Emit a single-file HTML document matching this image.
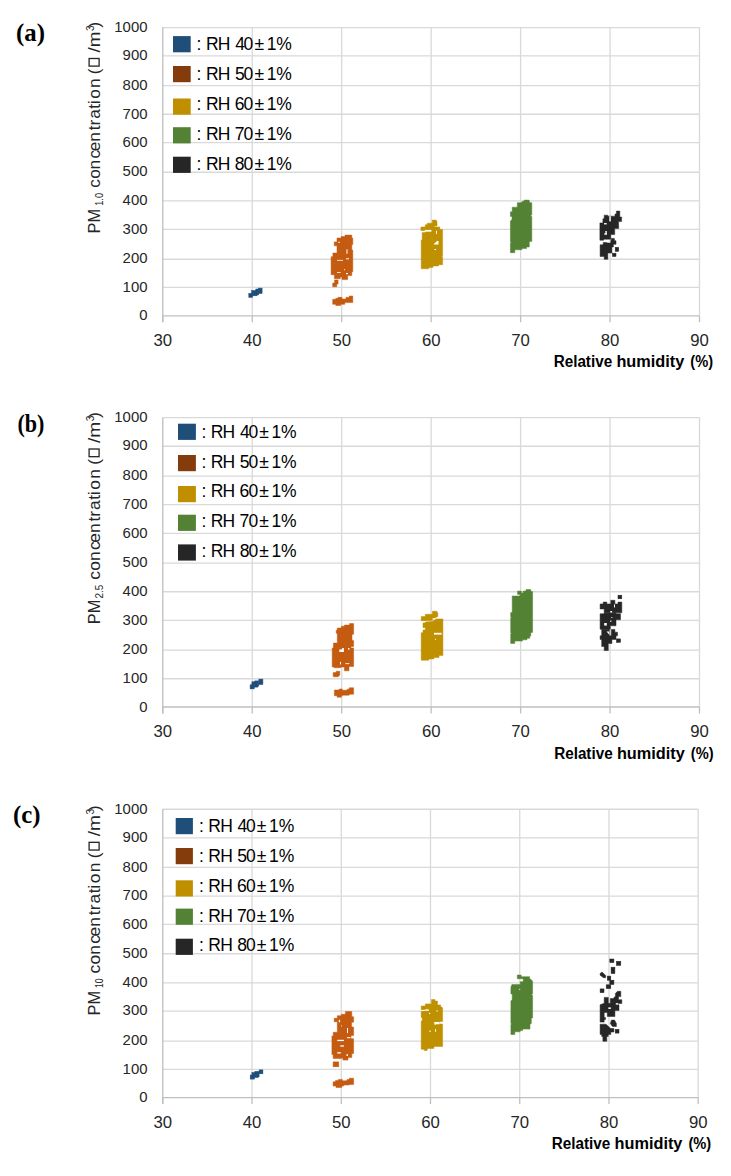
<!DOCTYPE html>
<html><head><meta charset="utf-8"><style>
html,body{margin:0;padding:0;background:#fff;}
body{width:731px;height:1176px;overflow:hidden;position:relative;}
svg{position:absolute;left:0;top:0;}
text{font-family:"Liberation Sans",sans-serif;fill:#262626;}
.yt{font-size:14px;}
.xt{font-size:16px;}
.xl{font-size:16px;font-weight:bold;fill:#000;}
.lg{font-size:17.5px;fill:#000;}
.pl{font-family:"Liberation Serif",serif;font-size:24.8px;font-weight:bold;fill:#000;}
.ylab{font-size:17.2px;}
.ysub{font-size:11px;}
</style></head><body>
<svg width="731" height="1176" viewBox="0 0 731 1176">
<line x1="162.8" x2="699.5" y1="287.45" y2="287.45" stroke="#d9d9d9" stroke-width="1.3"/>
<line x1="162.8" x2="699.5" y1="259.25" y2="259.25" stroke="#d9d9d9" stroke-width="1.3"/>
<line x1="162.8" x2="699.5" y1="229.45" y2="229.45" stroke="#d9d9d9" stroke-width="1.3"/>
<line x1="162.8" x2="699.5" y1="200.85" y2="200.85" stroke="#d9d9d9" stroke-width="1.3"/>
<line x1="162.8" x2="699.5" y1="172.25" y2="172.25" stroke="#d9d9d9" stroke-width="1.3"/>
<line x1="162.8" x2="699.5" y1="142.65" y2="142.65" stroke="#d9d9d9" stroke-width="1.3"/>
<line x1="162.8" x2="699.5" y1="114.25" y2="114.25" stroke="#d9d9d9" stroke-width="1.3"/>
<line x1="162.8" x2="699.5" y1="85.65" y2="85.65" stroke="#d9d9d9" stroke-width="1.3"/>
<line x1="162.8" x2="699.5" y1="55.95" y2="55.95" stroke="#d9d9d9" stroke-width="1.3"/>
<line x1="162.8" x2="699.5" y1="27.55" y2="27.55" stroke="#d9d9d9" stroke-width="1.3"/>
<line x1="252.25" x2="252.25" y1="27.3" y2="315.8" stroke="#d9d9d9" stroke-width="1.3"/>
<line x1="341.70" x2="341.70" y1="27.3" y2="315.8" stroke="#d9d9d9" stroke-width="1.3"/>
<line x1="431.15" x2="431.15" y1="27.3" y2="315.8" stroke="#d9d9d9" stroke-width="1.3"/>
<line x1="520.60" x2="520.60" y1="27.3" y2="315.8" stroke="#d9d9d9" stroke-width="1.3"/>
<line x1="610.05" x2="610.05" y1="27.3" y2="315.8" stroke="#d9d9d9" stroke-width="1.3"/>
<line x1="699.50" x2="699.50" y1="27.3" y2="315.8" stroke="#d9d9d9" stroke-width="1.3"/>
<line x1="162.80" x2="162.80" y1="315.8" y2="322.3" stroke="#bfbfbf" stroke-width="1.3"/>
<line x1="252.25" x2="252.25" y1="315.8" y2="322.3" stroke="#bfbfbf" stroke-width="1.3"/>
<line x1="341.70" x2="341.70" y1="315.8" y2="322.3" stroke="#bfbfbf" stroke-width="1.3"/>
<line x1="431.15" x2="431.15" y1="315.8" y2="322.3" stroke="#bfbfbf" stroke-width="1.3"/>
<line x1="520.60" x2="520.60" y1="315.8" y2="322.3" stroke="#bfbfbf" stroke-width="1.3"/>
<line x1="610.05" x2="610.05" y1="315.8" y2="322.3" stroke="#bfbfbf" stroke-width="1.3"/>
<line x1="699.50" x2="699.50" y1="315.8" y2="322.3" stroke="#bfbfbf" stroke-width="1.3"/>
<line x1="162.80" x2="162.80" y1="27.3" y2="322.3" stroke="#bfbfbf" stroke-width="1.3"/>
<line x1="162.8" x2="699.5" y1="315.80" y2="315.80" stroke="#bfbfbf" stroke-width="1.3"/>
<text x="139.20" y="320.2" class="yt" textLength="8.30" lengthAdjust="spacingAndGlyphs">0</text>
<text x="122.61" y="291.6" class="yt" textLength="24.89" lengthAdjust="spacingAndGlyphs">100</text>
<text x="122.61" y="263.4" class="yt" textLength="24.89" lengthAdjust="spacingAndGlyphs">200</text>
<text x="122.61" y="233.6" class="yt" textLength="24.89" lengthAdjust="spacingAndGlyphs">300</text>
<text x="122.61" y="205.0" class="yt" textLength="24.89" lengthAdjust="spacingAndGlyphs">400</text>
<text x="122.61" y="176.4" class="yt" textLength="24.89" lengthAdjust="spacingAndGlyphs">500</text>
<text x="122.61" y="146.8" class="yt" textLength="24.89" lengthAdjust="spacingAndGlyphs">600</text>
<text x="122.61" y="118.5" class="yt" textLength="24.89" lengthAdjust="spacingAndGlyphs">700</text>
<text x="122.61" y="89.9" class="yt" textLength="24.89" lengthAdjust="spacingAndGlyphs">800</text>
<text x="122.61" y="60.2" class="yt" textLength="24.89" lengthAdjust="spacingAndGlyphs">900</text>
<text x="114.31" y="31.8" class="yt" textLength="33.19" lengthAdjust="spacingAndGlyphs">1000</text>
<text x="162.8" y="346.0" text-anchor="middle" class="xt" textLength="18.6" lengthAdjust="spacingAndGlyphs">30</text>
<text x="252.2" y="346.0" text-anchor="middle" class="xt" textLength="18.6" lengthAdjust="spacingAndGlyphs">40</text>
<text x="341.7" y="346.0" text-anchor="middle" class="xt" textLength="18.6" lengthAdjust="spacingAndGlyphs">50</text>
<text x="431.2" y="346.0" text-anchor="middle" class="xt" textLength="18.6" lengthAdjust="spacingAndGlyphs">60</text>
<text x="520.6" y="346.0" text-anchor="middle" class="xt" textLength="18.6" lengthAdjust="spacingAndGlyphs">70</text>
<text x="610.1" y="346.0" text-anchor="middle" class="xt" textLength="18.6" lengthAdjust="spacingAndGlyphs">80</text>
<text x="699.5" y="346.0" text-anchor="middle" class="xt" textLength="18.6" lengthAdjust="spacingAndGlyphs">90</text>
<text x="553.7" y="366.8" class="xl" textLength="58.44" lengthAdjust="spacingAndGlyphs">Relative</text>
<text x="616.4" y="366.8" class="xl" textLength="67.93" lengthAdjust="spacingAndGlyphs">humidity</text>
<text x="690.3" y="366.8" class="xl" textLength="22.76" lengthAdjust="spacingAndGlyphs">(%)</text>
<text x="16.1" y="41.0" class="pl">(a)</text>
<rect x="173.0" y="36.1" width="17.7" height="16.2" fill="#1f4e79"/>
<text x="196.60 205.96 217.76 235.20 243.62 254.44 266.67 276.28" y="49.9" class="lg">:RH40±1%</text>
<rect x="173.0" y="66.0" width="17.7" height="16.2" fill="#843c0c"/>
<text x="196.60 205.96 217.76 234.90 243.62 254.44 266.67 276.28" y="79.8" class="lg">:RH50±1%</text>
<rect x="173.0" y="98.5" width="17.7" height="16.2" fill="#bf8f00"/>
<text x="196.60 205.96 217.76 234.71 243.62 254.44 266.67 276.28" y="109.7" class="lg">:RH60±1%</text>
<rect x="173.0" y="127.2" width="17.7" height="16.2" fill="#548235"/>
<text x="196.60 205.96 217.76 234.70 243.62 254.44 266.67 276.28" y="139.6" class="lg">:RH70±1%</text>
<rect x="173.0" y="156.7" width="17.7" height="16.2" fill="#262626"/>
<text x="196.60 205.96 217.76 234.84 243.62 254.44 266.67 276.28" y="169.5" class="lg">:RH80±1%</text>
<g transform="translate(100.1,232.3) rotate(-90)"><text x="-1.2" y="0" class="ylab" textLength="24.6" lengthAdjust="spacingAndGlyphs">PM</text><text x="26.6" y="3.2" class="ysub" textLength="12.7" lengthAdjust="spacingAndGlyphs">1.0</text><g transform="translate(46.3,0) scale(1.0000,1)"><text x="-1.8 7.16 16.64 27.51 34.77 44.34 55.72 60.5 67.17 77.24 81.82 87.2 97.98 111.83" y="0" class="ylab">concentration(</text><rect x="119.9" y="-11.0" width="7.6" height="10.0" fill="none" stroke="#262626" stroke-width="1.3"/><text x="133.4" y="0" class="ylab" textLength="21.0" lengthAdjust="spacingAndGlyphs">/m</text><text x="155.0" y="-6.0" class="ysub" style="font-size:10px">3</text><text x="158.2" y="0" class="ylab">)</text></g></g>
<line x1="162.8" x2="699.5" y1="678.75" y2="678.75" stroke="#d9d9d9" stroke-width="1.3"/>
<line x1="162.8" x2="699.5" y1="650.15" y2="650.15" stroke="#d9d9d9" stroke-width="1.3"/>
<line x1="162.8" x2="699.5" y1="620.45" y2="620.45" stroke="#d9d9d9" stroke-width="1.3"/>
<line x1="162.8" x2="699.5" y1="591.75" y2="591.75" stroke="#d9d9d9" stroke-width="1.3"/>
<line x1="162.8" x2="699.5" y1="563.15" y2="563.15" stroke="#d9d9d9" stroke-width="1.3"/>
<line x1="162.8" x2="699.5" y1="533.35" y2="533.35" stroke="#d9d9d9" stroke-width="1.3"/>
<line x1="162.8" x2="699.5" y1="504.65" y2="504.65" stroke="#d9d9d9" stroke-width="1.3"/>
<line x1="162.8" x2="699.5" y1="476.15" y2="476.15" stroke="#d9d9d9" stroke-width="1.3"/>
<line x1="162.8" x2="699.5" y1="446.25" y2="446.25" stroke="#d9d9d9" stroke-width="1.3"/>
<line x1="162.8" x2="699.5" y1="417.65" y2="417.65" stroke="#d9d9d9" stroke-width="1.3"/>
<line x1="252.25" x2="252.25" y1="417.4" y2="707.0" stroke="#d9d9d9" stroke-width="1.3"/>
<line x1="341.70" x2="341.70" y1="417.4" y2="707.0" stroke="#d9d9d9" stroke-width="1.3"/>
<line x1="431.15" x2="431.15" y1="417.4" y2="707.0" stroke="#d9d9d9" stroke-width="1.3"/>
<line x1="520.60" x2="520.60" y1="417.4" y2="707.0" stroke="#d9d9d9" stroke-width="1.3"/>
<line x1="610.05" x2="610.05" y1="417.4" y2="707.0" stroke="#d9d9d9" stroke-width="1.3"/>
<line x1="699.50" x2="699.50" y1="417.4" y2="707.0" stroke="#d9d9d9" stroke-width="1.3"/>
<line x1="162.80" x2="162.80" y1="707.0" y2="713.5" stroke="#bfbfbf" stroke-width="1.3"/>
<line x1="252.25" x2="252.25" y1="707.0" y2="713.5" stroke="#bfbfbf" stroke-width="1.3"/>
<line x1="341.70" x2="341.70" y1="707.0" y2="713.5" stroke="#bfbfbf" stroke-width="1.3"/>
<line x1="431.15" x2="431.15" y1="707.0" y2="713.5" stroke="#bfbfbf" stroke-width="1.3"/>
<line x1="520.60" x2="520.60" y1="707.0" y2="713.5" stroke="#bfbfbf" stroke-width="1.3"/>
<line x1="610.05" x2="610.05" y1="707.0" y2="713.5" stroke="#bfbfbf" stroke-width="1.3"/>
<line x1="699.50" x2="699.50" y1="707.0" y2="713.5" stroke="#bfbfbf" stroke-width="1.3"/>
<line x1="162.80" x2="162.80" y1="417.4" y2="713.5" stroke="#bfbfbf" stroke-width="1.3"/>
<line x1="162.8" x2="699.5" y1="707.00" y2="707.00" stroke="#bfbfbf" stroke-width="1.3"/>
<text x="139.20" y="711.5" class="yt" textLength="8.30" lengthAdjust="spacingAndGlyphs">0</text>
<text x="122.61" y="683.0" class="yt" textLength="24.89" lengthAdjust="spacingAndGlyphs">100</text>
<text x="122.61" y="654.4" class="yt" textLength="24.89" lengthAdjust="spacingAndGlyphs">200</text>
<text x="122.61" y="624.7" class="yt" textLength="24.89" lengthAdjust="spacingAndGlyphs">300</text>
<text x="122.61" y="596.0" class="yt" textLength="24.89" lengthAdjust="spacingAndGlyphs">400</text>
<text x="122.61" y="567.4" class="yt" textLength="24.89" lengthAdjust="spacingAndGlyphs">500</text>
<text x="122.61" y="537.6" class="yt" textLength="24.89" lengthAdjust="spacingAndGlyphs">600</text>
<text x="122.61" y="508.8" class="yt" textLength="24.89" lengthAdjust="spacingAndGlyphs">700</text>
<text x="122.61" y="480.3" class="yt" textLength="24.89" lengthAdjust="spacingAndGlyphs">800</text>
<text x="122.61" y="450.4" class="yt" textLength="24.89" lengthAdjust="spacingAndGlyphs">900</text>
<text x="114.31" y="421.8" class="yt" textLength="33.19" lengthAdjust="spacingAndGlyphs">1000</text>
<text x="162.8" y="737.2" text-anchor="middle" class="xt" textLength="18.6" lengthAdjust="spacingAndGlyphs">30</text>
<text x="252.2" y="737.2" text-anchor="middle" class="xt" textLength="18.6" lengthAdjust="spacingAndGlyphs">40</text>
<text x="341.7" y="737.2" text-anchor="middle" class="xt" textLength="18.6" lengthAdjust="spacingAndGlyphs">50</text>
<text x="431.2" y="737.2" text-anchor="middle" class="xt" textLength="18.6" lengthAdjust="spacingAndGlyphs">60</text>
<text x="520.6" y="737.2" text-anchor="middle" class="xt" textLength="18.6" lengthAdjust="spacingAndGlyphs">70</text>
<text x="610.1" y="737.2" text-anchor="middle" class="xt" textLength="18.6" lengthAdjust="spacingAndGlyphs">80</text>
<text x="699.5" y="737.2" text-anchor="middle" class="xt" textLength="18.6" lengthAdjust="spacingAndGlyphs">90</text>
<text x="554.2" y="758.9" class="xl" textLength="58.44" lengthAdjust="spacingAndGlyphs">Relative</text>
<text x="616.9" y="758.9" class="xl" textLength="67.93" lengthAdjust="spacingAndGlyphs">humidity</text>
<text x="690.8" y="758.9" class="xl" textLength="22.76" lengthAdjust="spacingAndGlyphs">(%)</text>
<text x="17.4" y="431.6" class="pl" textLength="27.0" lengthAdjust="spacingAndGlyphs">(b)</text>
<rect x="178.0" y="423.7" width="17.9" height="16.2" fill="#1f4e79"/>
<text x="201.40 210.76 222.56 240.00 248.42 259.24 271.47 281.08" y="437.9" class="lg">:RH40±1%</text>
<rect x="178.0" y="455.0" width="17.9" height="16.2" fill="#843c0c"/>
<text x="201.40 210.76 222.56 239.70 248.42 259.24 271.47 281.08" y="467.5" class="lg">:RH50±1%</text>
<rect x="178.0" y="486.0" width="17.9" height="16.2" fill="#bf8f00"/>
<text x="201.40 210.76 222.56 239.51 248.42 259.24 271.47 281.08" y="497.4" class="lg">:RH60±1%</text>
<rect x="178.0" y="514.7" width="17.9" height="16.2" fill="#548235"/>
<text x="201.40 210.76 222.56 239.50 248.42 259.24 271.47 281.08" y="527.3" class="lg">:RH70±1%</text>
<rect x="178.0" y="544.4" width="17.9" height="16.2" fill="#262626"/>
<text x="201.40 210.76 222.56 239.64 248.42 259.24 271.47 281.08" y="556.9" class="lg">:RH80±1%</text>
<g transform="translate(100.1,623.1) rotate(-90)"><text x="-1.2" y="0" class="ylab" textLength="24.6" lengthAdjust="spacingAndGlyphs">PM</text><text x="24.7" y="3.2" class="ysub" textLength="13.8" lengthAdjust="spacingAndGlyphs">2.5</text><g transform="translate(45.2,0) scale(1.0110,1)"><text x="-1.8 7.16 16.64 27.51 34.77 44.34 55.72 60.5 67.17 77.24 81.82 87.2 97.98 111.83" y="0" class="ylab">concentration(</text><rect x="119.9" y="-11.0" width="7.6" height="10.0" fill="none" stroke="#262626" stroke-width="1.3"/><text x="133.4" y="0" class="ylab" textLength="21.0" lengthAdjust="spacingAndGlyphs">/m</text><text x="155.0" y="-6.0" class="ysub" style="font-size:10px">3</text><text x="158.2" y="0" class="ylab">)</text></g></g>
<line x1="162.8" x2="698.2" y1="1069.45" y2="1069.45" stroke="#d9d9d9" stroke-width="1.3"/>
<line x1="162.8" x2="698.2" y1="1041.05" y2="1041.05" stroke="#d9d9d9" stroke-width="1.3"/>
<line x1="162.8" x2="698.2" y1="1011.15" y2="1011.15" stroke="#d9d9d9" stroke-width="1.3"/>
<line x1="162.8" x2="698.2" y1="982.85" y2="982.85" stroke="#d9d9d9" stroke-width="1.3"/>
<line x1="162.8" x2="698.2" y1="953.75" y2="953.75" stroke="#d9d9d9" stroke-width="1.3"/>
<line x1="162.8" x2="698.2" y1="924.45" y2="924.45" stroke="#d9d9d9" stroke-width="1.3"/>
<line x1="162.8" x2="698.2" y1="896.05" y2="896.05" stroke="#d9d9d9" stroke-width="1.3"/>
<line x1="162.8" x2="698.2" y1="867.45" y2="867.45" stroke="#d9d9d9" stroke-width="1.3"/>
<line x1="162.8" x2="698.2" y1="837.85" y2="837.85" stroke="#d9d9d9" stroke-width="1.3"/>
<line x1="162.8" x2="698.2" y1="809.25" y2="809.25" stroke="#d9d9d9" stroke-width="1.3"/>
<line x1="252.03" x2="252.03" y1="809.0" y2="1097.6" stroke="#d9d9d9" stroke-width="1.3"/>
<line x1="341.27" x2="341.27" y1="809.0" y2="1097.6" stroke="#d9d9d9" stroke-width="1.3"/>
<line x1="430.50" x2="430.50" y1="809.0" y2="1097.6" stroke="#d9d9d9" stroke-width="1.3"/>
<line x1="519.73" x2="519.73" y1="809.0" y2="1097.6" stroke="#d9d9d9" stroke-width="1.3"/>
<line x1="608.97" x2="608.97" y1="809.0" y2="1097.6" stroke="#d9d9d9" stroke-width="1.3"/>
<line x1="698.20" x2="698.20" y1="809.0" y2="1097.6" stroke="#d9d9d9" stroke-width="1.3"/>
<line x1="162.80" x2="162.80" y1="1097.6" y2="1104.1" stroke="#bfbfbf" stroke-width="1.3"/>
<line x1="252.03" x2="252.03" y1="1097.6" y2="1104.1" stroke="#bfbfbf" stroke-width="1.3"/>
<line x1="341.27" x2="341.27" y1="1097.6" y2="1104.1" stroke="#bfbfbf" stroke-width="1.3"/>
<line x1="430.50" x2="430.50" y1="1097.6" y2="1104.1" stroke="#bfbfbf" stroke-width="1.3"/>
<line x1="519.73" x2="519.73" y1="1097.6" y2="1104.1" stroke="#bfbfbf" stroke-width="1.3"/>
<line x1="608.97" x2="608.97" y1="1097.6" y2="1104.1" stroke="#bfbfbf" stroke-width="1.3"/>
<line x1="698.20" x2="698.20" y1="1097.6" y2="1104.1" stroke="#bfbfbf" stroke-width="1.3"/>
<line x1="162.80" x2="162.80" y1="809.0" y2="1104.1" stroke="#bfbfbf" stroke-width="1.3"/>
<line x1="162.8" x2="698.2" y1="1097.60" y2="1097.60" stroke="#bfbfbf" stroke-width="1.3"/>
<text x="139.20" y="1102.0" class="yt" textLength="8.30" lengthAdjust="spacingAndGlyphs">0</text>
<text x="122.61" y="1073.7" class="yt" textLength="24.89" lengthAdjust="spacingAndGlyphs">100</text>
<text x="122.61" y="1045.2" class="yt" textLength="24.89" lengthAdjust="spacingAndGlyphs">200</text>
<text x="122.61" y="1015.4" class="yt" textLength="24.89" lengthAdjust="spacingAndGlyphs">300</text>
<text x="122.61" y="987.1" class="yt" textLength="24.89" lengthAdjust="spacingAndGlyphs">400</text>
<text x="122.61" y="958.0" class="yt" textLength="24.89" lengthAdjust="spacingAndGlyphs">500</text>
<text x="122.61" y="928.7" class="yt" textLength="24.89" lengthAdjust="spacingAndGlyphs">600</text>
<text x="122.61" y="900.2" class="yt" textLength="24.89" lengthAdjust="spacingAndGlyphs">700</text>
<text x="122.61" y="871.7" class="yt" textLength="24.89" lengthAdjust="spacingAndGlyphs">800</text>
<text x="122.61" y="842.1" class="yt" textLength="24.89" lengthAdjust="spacingAndGlyphs">900</text>
<text x="114.31" y="813.5" class="yt" textLength="33.19" lengthAdjust="spacingAndGlyphs">1000</text>
<text x="162.8" y="1127.8" text-anchor="middle" class="xt" textLength="18.6" lengthAdjust="spacingAndGlyphs">30</text>
<text x="252.0" y="1127.8" text-anchor="middle" class="xt" textLength="18.6" lengthAdjust="spacingAndGlyphs">40</text>
<text x="341.3" y="1127.8" text-anchor="middle" class="xt" textLength="18.6" lengthAdjust="spacingAndGlyphs">50</text>
<text x="430.5" y="1127.8" text-anchor="middle" class="xt" textLength="18.6" lengthAdjust="spacingAndGlyphs">60</text>
<text x="519.7" y="1127.8" text-anchor="middle" class="xt" textLength="18.6" lengthAdjust="spacingAndGlyphs">70</text>
<text x="609.0" y="1127.8" text-anchor="middle" class="xt" textLength="18.6" lengthAdjust="spacingAndGlyphs">80</text>
<text x="698.2" y="1127.8" text-anchor="middle" class="xt" textLength="18.6" lengthAdjust="spacingAndGlyphs">90</text>
<text x="551.8" y="1148.8" class="xl" textLength="58.44" lengthAdjust="spacingAndGlyphs">Relative</text>
<text x="614.5" y="1148.8" class="xl" textLength="67.93" lengthAdjust="spacingAndGlyphs">humidity</text>
<text x="688.4" y="1148.8" class="xl" textLength="22.76" lengthAdjust="spacingAndGlyphs">(%)</text>
<text x="13.0" y="822.9" class="pl">(c)</text>
<rect x="175.7" y="818.0" width="17.2" height="16.2" fill="#1f4e79"/>
<text x="199.00 208.36 220.16 237.60 246.02 256.84 269.07 278.68" y="831.7" class="lg">:RH40±1%</text>
<rect x="175.7" y="848.0" width="17.2" height="16.2" fill="#843c0c"/>
<text x="199.00 208.36 220.16 237.30 246.02 256.84 269.07 278.68" y="861.7" class="lg">:RH50±1%</text>
<rect x="175.7" y="880.3" width="17.2" height="16.2" fill="#bf8f00"/>
<text x="199.00 208.36 220.16 237.11 246.02 256.84 269.07 278.68" y="891.5" class="lg">:RH60±1%</text>
<rect x="175.7" y="908.6" width="17.2" height="16.2" fill="#548235"/>
<text x="199.00 208.36 220.16 237.10 246.02 256.84 269.07 278.68" y="921.5" class="lg">:RH70±1%</text>
<rect x="175.7" y="938.7" width="17.2" height="16.2" fill="#262626"/>
<text x="199.00 208.36 220.16 237.24 246.02 256.84 269.07 278.68" y="951.1" class="lg">:RH80±1%</text>
<g transform="translate(100.1,1014.2) rotate(-90)"><text x="-1.2" y="0" class="ylab" textLength="24.6" lengthAdjust="spacingAndGlyphs">PM</text><text x="26.2" y="3.2" class="ysub" textLength="9.6" lengthAdjust="spacingAndGlyphs">10</text><g transform="translate(42.5,0) scale(1.0147,1)"><text x="-1.8 7.16 16.64 27.51 34.77 44.34 55.72 60.5 67.17 77.24 81.82 87.2 97.98 111.83" y="0" class="ylab">concentration(</text><rect x="119.9" y="-11.0" width="7.6" height="10.0" fill="none" stroke="#262626" stroke-width="1.3"/><text x="133.4" y="0" class="ylab" textLength="21.0" lengthAdjust="spacingAndGlyphs">/m</text><text x="155.0" y="-6.0" class="ysub" style="font-size:10px">3</text><text x="158.2" y="0" class="ylab">)</text></g></g>
<rect x="248.8" y="293.3" width="3.9" height="4.1" fill="#1f4e79" stroke="#1f4e79" stroke-width="0.5"/>
<rect x="251.6" y="290.5" width="5.5" height="5.3" fill="#1f4e79" stroke="#1f4e79" stroke-width="0.5"/>
<rect x="255.8" y="289.0" width="3.0" height="5.8" fill="#1f4e79" stroke="#1f4e79" stroke-width="0.5"/>
<rect x="258.4" y="288.1" width="3.7" height="5.4" fill="#1f4e79" stroke="#1f4e79" stroke-width="0.5"/>
<polygon points="345.0,235.1 351.8,235.1 351.8,238.0 352.8,238.0 352.8,244.6 351.8,244.6 351.8,250.1 352.8,250.1 352.8,271.8 351.8,271.8 351.8,275.5 347.7,275.5 347.7,279.6 342.0,279.6 342.0,277.0 340.3,277.0 340.3,278.8 334.4,278.8 334.4,274.7 331.1,274.7 331.1,256.7 332.9,256.7 332.9,253.0 337.0,253.0 337.0,245.8 334.2,245.8 334.2,241.9 337.0,241.9 337.0,238.0 341.1,238.0 341.1,236.6 345.0,236.6" fill="#c55a11" stroke="#c55a11" stroke-width="0.5"/>
<rect x="346.5" y="249.3" width="1.0" height="4.5" fill="#ffffff"/>
<rect x="338.4" y="241.8" width="1.4" height="1.2" fill="#ffffff"/>
<rect x="337.0" y="259.9" width="6.0" height="0.8" fill="#ffffff"/>
<rect x="346.0" y="258.3" width="3.0" height="1.0" fill="#ffffff"/>
<rect x="337.0" y="272.2" width="3.7" height="0.8" fill="#ffffff"/>
<rect x="346.0" y="273.0" width="2.0" height="1.2" fill="#ffffff"/>
<rect x="344.0" y="269.2" width="0.9" height="1.0" fill="#ffffff"/>
<polygon points="334.6,280.0 338.1,280.0 338.1,284.0 336.8,284.0 336.8,286.8 332.7,286.8 332.7,283.0 334.6,283.0" fill="#c55a11" stroke="#c55a11" stroke-width="0.5"/>
<polygon points="338.0,297.3 342.0,297.3 342.0,299.0 346.0,299.0 346.0,297.3 349.3,297.3 349.3,296.0 352.8,296.0 352.8,302.6 344.8,302.6 344.8,304.3 340.7,304.3 340.7,305.5 335.8,305.5 335.8,304.3 332.7,304.3 332.7,299.3 335.8,299.3 335.8,298.3 338.0,298.3" fill="#c55a11" stroke="#c55a11" stroke-width="0.5"/>
<polygon points="432.2,220.1 436.0,220.1 437.0,221.6 437.0,226.0 434.4,226.0 434.4,227.0 439.8,227.0 439.8,229.5 442.6,229.5 442.6,256.3 441.6,256.3 441.6,257.0 442.6,257.0 442.6,264.7 438.5,264.7 438.5,266.0 432.9,266.0 432.9,267.6 428.8,267.6 428.8,268.8 421.2,268.8 421.2,240.0 422.2,240.0 422.2,230.8 420.9,230.8 420.9,227.0 425.3,227.0 425.3,224.7 427.3,224.7 427.3,223.2 432.2,223.2" fill="#bf9000" stroke="#bf9000" stroke-width="0.5"/>
<rect x="424.8" y="229.9" width="6.6" height="1.8" fill="#ffffff"/>
<rect x="420.5" y="230.8" width="4.8" height="1.5" fill="#ffffff"/>
<rect x="436.0" y="230.8" width="1.0" height="3.1" fill="#ffffff"/>
<polygon points="433.4,244.6 438.5,244.6 438.5,241.0 437.0,241.0" fill="#ffffff"/>
<rect x="434.4" y="249.0" width="1.6" height="1.0" fill="#ffffff"/>
<polygon points="524.2,200.1 529.0,200.1 529.8,202.7 531.8,202.7 531.8,214.9 530.8,214.9 530.8,216.4 531.8,216.4 531.8,241.4 529.3,241.4 529.3,247.0 526.5,247.0 526.5,248.6 521.9,248.6 521.9,249.8 514.8,249.8 514.8,252.7 510.4,252.7 510.4,243.0 511.2,242.4 510.4,241.8 510.4,221.0 512.0,219.5 512.0,216.4 510.4,216.4 510.4,211.8 512.2,211.8 512.2,207.2 517.3,207.2 517.3,202.7 521.0,202.7 522.4,201.2 524.2,201.2" fill="#548235" stroke="#548235" stroke-width="0.5"/>
<polygon points="616.4,211.1 619.8,211.1 619.8,217.0 621.6,217.0 621.6,221.6 618.5,221.6 618.7,228.5 614.7,228.5 614.7,234.6 610.8,234.6 610.8,239.2 603.7,239.2 603.7,240.2 599.9,240.2 599.9,222.9 602.9,222.9 602.9,218.8 604.2,218.8 604.2,215.2 607.8,215.2 607.8,216.2 615.0,216.2 615.0,214.0 616.4,214.0" fill="#262626" stroke="#262626" stroke-width="0.5"/>
<rect x="609.3" y="216.2" width="1.5" height="5.2" fill="#ffffff"/>
<rect x="604.0" y="223.1" width="2.8" height="1.3" fill="#ffffff"/>
<rect x="605.4" y="231.0" width="1.4" height="3.6" fill="#ffffff"/>
<rect x="604.2" y="233.4" width="2.6" height="1.2" fill="#ffffff"/>
<polygon points="611.3,238.4 614.4,238.4 614.4,240.7 616.0,240.7 616.0,244.3 613.4,244.3 613.4,247.0 611.9,247.0 611.9,253.0 607.8,253.0 607.8,259.3 604.2,259.3 604.2,256.5 600.1,256.5 600.1,244.8 603.2,244.8 603.2,242.5 606.8,242.5 606.8,243.0 610.8,243.0 610.8,240.5 611.3,240.5" fill="#262626" stroke="#262626" stroke-width="0.5"/>
<rect x="615.2" y="247.3" width="3.5" height="4.1" fill="#262626" stroke="#262626" stroke-width="0.5"/>
<rect x="612.4" y="253.2" width="3.6" height="3.3" fill="#262626" stroke="#262626" stroke-width="0.5"/>
<rect x="250.1" y="684.8" width="4.1" height="4.1" fill="#1f4e79" stroke="#1f4e79" stroke-width="0.5"/>
<rect x="251.9" y="681.8" width="5.9" height="5.3" fill="#1f4e79" stroke="#1f4e79" stroke-width="0.5"/>
<rect x="254.8" y="680.9" width="4.0" height="5.2" fill="#1f4e79" stroke="#1f4e79" stroke-width="0.5"/>
<rect x="258.9" y="679.1" width="4.0" height="5.4" fill="#1f4e79" stroke="#1f4e79" stroke-width="0.5"/>
<polygon points="349.5,623.6 353.6,623.6 353.6,634.3 352.0,634.3 352.0,640.4 353.6,640.4 353.6,646.6 351.0,646.6 351.0,648.1 353.6,648.1 353.6,666.5 349.0,666.5 349.0,670.8 344.4,670.8 344.4,667.0 340.8,667.0 340.8,667.7 334.2,667.7 334.2,667.0 332.2,667.0 332.2,648.1 333.4,648.1 333.4,643.0 337.3,643.0 337.3,633.3 336.2,633.3 336.2,630.2 337.3,630.2 337.3,628.0 341.3,628.0 341.3,626.2 344.4,626.2 344.4,625.1 349.5,625.1" fill="#c55a11" stroke="#c55a11" stroke-width="0.5"/>
<polygon points="339.3,649.5 341.5,649.5 342.5,648.1 343.9,648.1 343.9,651.9 339.3,651.9" fill="#ffffff"/>
<rect x="348.0" y="648.1" width="1.5" height="1.5" fill="#ffffff"/>
<rect x="340.0" y="661.9" width="1.0" height="2.5" fill="#ffffff"/>
<rect x="345.4" y="663.2" width="3.9" height="0.9" fill="#ffffff"/>
<polygon points="336.2,671.3 339.8,671.3 339.8,675.0 338.2,676.7 333.2,676.7 333.2,672.6 336.2,672.6" fill="#c55a11" stroke="#c55a11" stroke-width="0.5"/>
<polygon points="339.2,689.0 342.3,689.0 342.3,690.3 347.0,690.3 347.0,689.2 349.2,689.2 349.2,687.8 353.6,687.8 353.6,694.2 349.2,694.2 349.2,695.2 342.3,695.2 342.3,695.7 341.3,695.7 341.3,697.2 337.1,697.2 337.1,695.7 334.4,695.7 334.4,690.0 339.2,690.0" fill="#c55a11" stroke="#c55a11" stroke-width="0.5"/>
<polygon points="421.2,616.6 425.3,616.6 425.3,614.3 432.4,614.3 432.4,611.2 436.5,611.2 437.8,612.8 437.8,616.5 435.0,617.8 432.4,620.3 425.3,620.7 421.2,620.7" fill="#bf9000" stroke="#bf9000" stroke-width="0.5"/>
<polygon points="425.3,622.0 432.4,621.4 436.0,618.9 442.9,618.9 442.9,655.6 439.0,655.6 439.0,657.6 433.9,657.6 433.9,658.9 428.8,658.9 428.8,660.2 421.2,660.2 421.2,632.7 423.0,632.7 423.0,630.0 425.3,630.0 425.3,627.6 423.0,627.6 423.0,623.0 425.3,623.0" fill="#bf9000" stroke="#bf9000" stroke-width="0.5"/>
<rect x="434.0" y="632.8" width="7.6" height="1.8" fill="#ffffff"/>
<rect x="435.0" y="638.8" width="1.0" height="1.0" fill="#ffffff"/>
<rect x="432.5" y="618.3" width="2.5" height="1.2" fill="#ffffff"/>
<polygon points="526.0,589.6 530.8,589.6 530.8,591.6 532.6,591.6 532.6,632.4 530.8,632.4 530.8,636.0 529.8,636.0 529.8,638.3 527.0,638.3 527.0,639.8 522.4,639.8 522.4,641.1 514.8,641.1 514.8,643.4 510.7,643.4 510.7,634.0 511.4,633.5 510.7,633.0 510.7,617.7 511.4,617.2 510.7,616.7 510.7,612.6 512.2,612.6 512.2,596.0 519.9,596.0 519.9,594.4 521.4,594.4 521.4,592.9 523.2,592.9 523.2,591.1 526.0,591.1" fill="#548235" stroke="#548235" stroke-width="0.5"/>
<polygon points="517.6,591.1 521.4,591.1 521.4,594.4 517.6,594.4" fill="#548235" stroke="#548235" stroke-width="0.5"/>
<rect x="618.0" y="595.2" width="3.8" height="3.6" fill="#262626" stroke="#262626" stroke-width="0.5"/>
<polygon points="603.2,602.1 606.8,602.1 606.8,603.9 610.8,603.9 610.8,600.3 614.9,600.3 614.9,603.9 618.0,603.9 618.0,602.1 621.8,602.1 621.8,612.8 604.2,612.8 604.2,609.0 600.1,609.0 600.1,603.9 603.2,603.9" fill="#262626" stroke="#262626" stroke-width="0.5"/>
<rect x="614.0" y="604.4" width="1.0" height="3.0" fill="#ffffff"/>
<polygon points="600.1,613.8 620.5,613.8 620.5,619.7 616.0,619.7 616.0,625.8 610.3,625.8 610.3,629.2 600.1,629.2" fill="#262626" stroke="#262626" stroke-width="0.5"/>
<polygon points="604.2,612.8 616.0,612.8 616.0,613.8 604.2,613.8" fill="#262626" stroke="#262626" stroke-width="0.5"/>
<rect x="610.3" y="611.0" width="1.8" height="1.5" fill="#ffffff"/>
<rect x="611.3" y="617.1" width="1.0" height="1.0" fill="#ffffff"/>
<rect x="604.2" y="623.0" width="2.6" height="2.6" fill="#ffffff"/>
<rect x="610.3" y="620.5" width="1.0" height="1.5" fill="#ffffff"/>
<polygon points="601.7,629.2 609.3,629.2 609.3,635.8 611.3,635.8 611.3,629.4 614.9,629.4 614.9,632.2 617.5,632.2 617.5,635.8 616.0,635.8 616.0,639.4 611.9,639.4 611.9,643.5 608.3,643.5 608.3,650.6 604.2,650.6 604.2,646.5 601.7,646.5 601.7,639.4 600.1,639.4 600.1,635.8 601.7,635.8" fill="#262626" stroke="#262626" stroke-width="0.5"/>
<polygon points="606.5,631.5 609.3,631.5 609.3,634.8" fill="#ffffff"/>
<rect x="616.4" y="638.9" width="4.1" height="3.5" fill="#262626" stroke="#262626" stroke-width="0.5"/>
<rect x="250.2" y="1075.0" width="4.3" height="4.1" fill="#1f4e79" stroke="#1f4e79" stroke-width="0.5"/>
<rect x="251.9" y="1072.5" width="6.5" height="5.0" fill="#1f4e79" stroke="#1f4e79" stroke-width="0.5"/>
<rect x="254.8" y="1071.4" width="4.3" height="5.4" fill="#1f4e79" stroke="#1f4e79" stroke-width="0.5"/>
<rect x="259.1" y="1069.9" width="3.8" height="3.9" fill="#1f4e79" stroke="#1f4e79" stroke-width="0.5"/>
<polygon points="345.4,1011.6 351.8,1011.6 351.8,1016.7 353.6,1016.7 353.6,1022.3 351.6,1022.3 351.6,1027.0 353.6,1027.0 353.6,1035.6 351.0,1035.6 351.0,1038.7 353.6,1038.7 353.6,1053.5 351.8,1053.5 351.8,1057.6 348.0,1057.6 348.0,1060.1 342.9,1060.1 342.9,1058.0 341.3,1058.0 341.3,1058.6 333.2,1058.6 333.2,1054.5 331.9,1054.5 331.9,1036.1 333.2,1036.1 333.2,1032.3 337.3,1032.3 337.3,1021.8 334.2,1021.8 334.2,1018.3 337.3,1018.3 337.3,1015.7 341.3,1015.7 341.3,1014.2 345.4,1014.2" fill="#c55a11" stroke="#c55a11" stroke-width="0.5"/>
<rect x="338.8" y="1019.8" width="1.3" height="2.5" fill="#ffffff"/>
<rect x="347.0" y="1028.0" width="1.0" height="5.0" fill="#ffffff"/>
<rect x="337.3" y="1039.8" width="6.6" height="1.3" fill="#ffffff"/>
<rect x="340.3" y="1045.3" width="3.6" height="1.3" fill="#ffffff"/>
<rect x="337.3" y="1052.2" width="3.5" height="1.3" fill="#ffffff"/>
<rect x="347.0" y="1037.1" width="3.5" height="1.1" fill="#ffffff"/>
<rect x="346.5" y="1054.2" width="1.5" height="1.8" fill="#ffffff"/>
<rect x="341.0" y="1025.5" width="0.9" height="0.9" fill="#ffffff"/>
<rect x="333.1" y="1061.9" width="5.7" height="4.9" fill="#c55a11" stroke="#c55a11" stroke-width="0.5"/>
<polygon points="338.3,1079.4 342.3,1079.4 342.3,1080.8 347.0,1080.8 347.0,1079.5 349.2,1079.5 349.2,1078.2 353.6,1078.2 353.6,1084.6 349.2,1084.6 349.2,1085.0 343.7,1085.0 343.7,1086.0 341.8,1086.0 341.8,1087.5 336.0,1087.5 336.0,1086.0 333.1,1086.0 333.1,1081.8 335.5,1081.8 335.5,1080.5 338.3,1080.5" fill="#c55a11" stroke="#c55a11" stroke-width="0.5"/>
<polygon points="431.4,999.6 435.0,999.6 435.0,1001.1 437.5,1001.1 437.5,1004.9 440.6,1004.9 440.6,1006.5 442.6,1007.8 442.6,1021.5 439.6,1021.5 439.6,1024.0 442.6,1024.0 442.6,1046.5 433.9,1046.5 433.9,1048.5 427.3,1048.5 427.3,1050.4 424.2,1050.4 424.2,1049.3 421.2,1049.3 421.2,1021.0 422.2,1021.0 422.2,1017.5 421.2,1017.5 421.2,1006.0 425.3,1006.0 425.3,1003.9 431.4,1003.9" fill="#bf9000" stroke="#bf9000" stroke-width="0.5"/>
<rect x="425.3" y="1009.3" width="3.5" height="1.5" fill="#ffffff"/>
<rect x="420.8" y="1009.9" width="4.6" height="1.1" fill="#ffffff"/>
<polygon points="434.0,1022.0 439.6,1022.0 439.6,1024.2 436.0,1024.2 434.8,1025.3" fill="#ffffff"/>
<rect x="429.3" y="1030.7" width="1.6" height="1.0" fill="#ffffff"/>
<rect x="435.0" y="1029.2" width="1.0" height="2.5" fill="#ffffff"/>
<rect x="429.0" y="1012.8" width="1.2" height="1.2" fill="#ffffff"/>
<rect x="436.5" y="1010.3" width="1.2" height="1.2" fill="#ffffff"/>
<polygon points="517.3,975.0 521.2,975.0 521.2,976.7 529.6,976.7 529.6,978.7 531.2,979.6 532.6,981.2 532.6,993.9 531.5,994.6 532.6,995.4 532.6,1017.9 531.3,1017.9 531.3,1023.7 530.0,1023.7 530.0,1029.1 522.7,1029.1 522.7,1030.6 520.2,1030.6 520.2,1031.8 514.8,1031.8 514.8,1034.5 510.9,1034.5 510.9,1024.5 511.8,1024.0 510.9,1023.5 510.9,1001.0 512.2,999.5 512.2,993.9 510.9,993.9 510.9,987.2 511.9,984.6 520.2,984.6 520.2,981.7 523.2,981.7 523.2,978.7 517.3,978.7" fill="#548235" stroke="#548235" stroke-width="0.5"/>
<rect x="519.2" y="988.8" width="1.0" height="1.0" fill="#ffffff"/>
<rect x="609.8" y="959.0" width="4.1" height="3.6" fill="#262626" stroke="#262626" stroke-width="0.5"/>
<rect x="616.4" y="961.3" width="4.4" height="4.1" fill="#262626" stroke="#262626" stroke-width="0.5"/>
<rect x="611.1" y="967.2" width="3.8" height="6.4" fill="#262626" stroke="#262626" stroke-width="0.5"/>
<polygon points="600.1,973.5 602.0,972.0 605.7,975.5 605.7,977.7 603.5,977.7 600.1,975.2" fill="#262626" stroke="#262626" stroke-width="0.5"/>
<rect x="607.3" y="976.1" width="3.5" height="4.1" fill="#262626" stroke="#262626" stroke-width="0.5"/>
<rect x="609.8" y="980.2" width="4.1" height="4.3" fill="#262626" stroke="#262626" stroke-width="0.5"/>
<rect x="606.2" y="984.8" width="4.6" height="3.8" fill="#262626" stroke="#262626" stroke-width="0.5"/>
<rect x="600.1" y="988.9" width="3.9" height="3.8" fill="#262626" stroke="#262626" stroke-width="0.5"/>
<polygon points="617.5,991.3 620.8,991.3 620.8,996.6 618.5,996.6 618.5,997.1 615.4,997.1 615.4,993.5" fill="#262626" stroke="#262626" stroke-width="0.5"/>
<polygon points="604.2,997.4 608.3,997.4 608.3,1003.3 610.3,1003.3 610.3,998.5 614.0,998.5 614.0,997.1 618.5,997.1 618.5,999.7 621.8,999.7 621.8,1003.5 617.5,1003.5 617.5,1004.8 619.0,1004.8 619.0,1010.4 614.9,1010.4 614.9,1016.5 607.3,1016.5 607.3,1012.5 604.2,1012.5 604.2,1017.5 605.5,1017.5 605.5,1019.5 604.2,1019.5 604.2,1022.1 600.1,1022.1 600.1,1004.8 603.5,1003.5 604.2,1003.5" fill="#262626" stroke="#262626" stroke-width="0.5"/>
<rect x="608.3" y="1007.4" width="2.6" height="1.5" fill="#ffffff"/>
<rect x="615.8" y="1003.2" width="2.2" height="1.4" fill="#ffffff"/>
<polygon points="611.5,1020.1 614.5,1020.1 616.4,1023.5 616.4,1026.5 612.5,1026.5 610.3,1023.5" fill="#262626" stroke="#262626" stroke-width="0.5"/>
<polygon points="600.1,1024.2 606.0,1024.2 608.5,1026.5 610.8,1028.5 613.9,1028.5 613.9,1032.0 610.8,1032.0 610.8,1034.4 608.3,1034.4 608.3,1036.4 606.8,1036.4 606.8,1041.3 602.9,1041.3 602.9,1036.4 601.7,1036.4 601.7,1034.4 600.1,1034.4" fill="#262626" stroke="#262626" stroke-width="0.5"/>
<rect x="615.2" y="1029.3" width="3.8" height="3.8" fill="#262626" stroke="#262626" stroke-width="0.5"/>
</svg>
</body></html>
